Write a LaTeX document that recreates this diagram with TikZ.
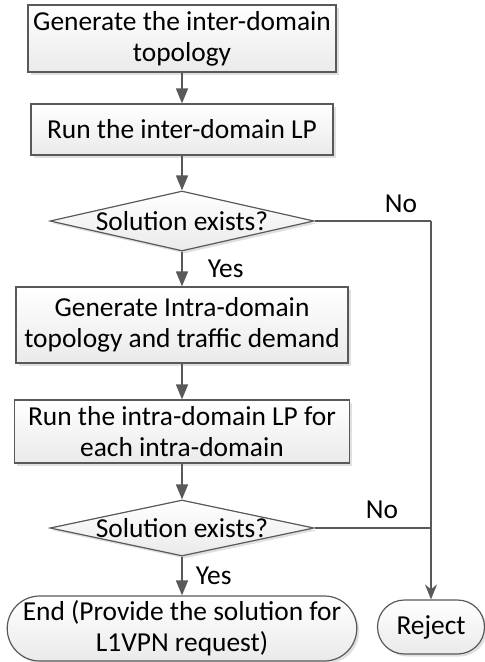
\documentclass[tikz,border=0pt]{standalone}
\usepackage{fontspec}
\setmainfont{Carlito}
\usetikzlibrary{shapes.geometric,shapes.misc,arrows.meta,shadows}
\definecolor{linegray}{HTML}{595959}
\definecolor{fillbot}{HTML}{EAEAEA}
\begin{document}
\begin{tikzpicture}[x=1pt,y=-1pt,
  font=\fontsize{27.4}{31}\selectfont,
  shade/.style={top color=white, bottom color=fillbot,
    drop shadow={shadow xshift=2.5pt, shadow yshift=-2.5pt, fill=black, opacity=0.12}},
  box/.style={shade, draw=linegray, line width=1.2pt, align=center, inner sep=0pt},
  decision/.style={shade, shape=diamond, draw=linegray, line width=1.2pt, inner sep=0pt,
    minimum width=264pt, minimum height=60pt},
  term/.style={shade, shape=rounded rectangle, draw=linegray, line width=1.2pt,
    align=center, inner sep=0pt},
  conn/.style={draw=linegray, line width=1.5pt},
  arr/.style={conn, -{Triangle[length=15pt,width=12pt]}},
  rarr/.style={conn, -{Stealth[length=15pt,width=12pt,inset=5pt]}},
  lbl/.style={inner sep=0pt}
]
\useasboundingbox (0,0) rectangle (485,662);

\node[box, minimum width=308pt, minimum height=67pt] (b1) at (182,38.5)
  {Generate the inter-domain\\topology};
\node[box, minimum width=302pt, minimum height=51pt] (b2) at (182,129.5)
  {Run the inter-domain LP};
\node[decision, label={[lbl]center:Solution exists?}] (d1) at (182,221) {};
\node[box, minimum width=332pt, minimum height=76pt] (b3) at (182,325)
  {Generate Intra-domain\\topology and traffic demand};
\node[box, minimum width=335pt, minimum height=63pt] (b4) at (182,431.5)
  {Run the intra-domain LP for\\each intra-domain};
\node[decision, minimum height=56pt, label={[lbl]center:Solution exists?}] (d2) at (182,528) {};
\node[term, minimum width=343pt, minimum height=65pt] (end) at (182,628.5)
  {End (Provide the solution for\\L1VPN request)};
\node[term, minimum width=107pt, minimum height=54pt] (rej) at (431,627) {Reject};
\coordinate (c1) at (431,221);

\node[lbl] (no1) at (401,204) {No};
\node[lbl] (no2) at (382,510) {No};

\draw[arr] (b1.south) -- (b2.north);
\draw[arr] (b2.south) -- (d1.north);
\draw[arr] (d1.south) -- node[lbl, anchor=west, xshift=25pt] (yes1) {Yes} (b3.north);
\draw[arr] (b3.south) -- (b4.north);
\draw[arr] (b4.south) -- (d2.north);
\draw[arr] (d2.south) -- node[lbl, anchor=west, xshift=13pt] (yes2) {Yes} (end.north);
\draw[conn] (d1.east) -- (c1);
\draw[rarr] (c1) -- (rej.north);
\draw[conn] (d2.east) -- (d2.east -| c1);
\end{tikzpicture}
\end{document}
